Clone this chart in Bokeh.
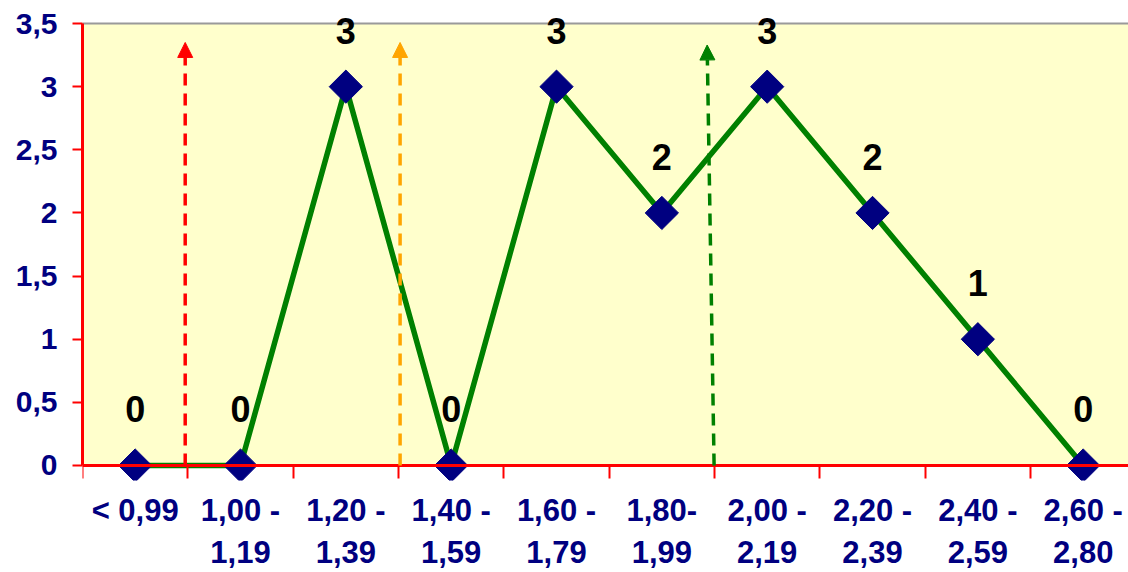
import math
from bokeh.plotting import figure
from bokeh.models import (FixedTicker, ColumnDataSource, LabelSet, Arrow, NormalHead,
                          BoxAnnotation, Span, LinearAxis)
from bokeh.core.properties import value
from bokeh.embed import file_html
from bokeh.resources import INLINE

categories = ["< 0,99", "1,00 -\n1,19", "1,20 -\n1,39", "1,40 -\n1,59", "1,60 -\n1,79",
              "1,80-\n1,99", "2,00 -\n2,19", "2,20 -\n2,39", "2,40 -\n2,59", "2,60 -\n2,80"]
counts = [0, 0, 3, 0, 3, 2, 3, 2, 1, 0]
y_ticks = [0, 0.5, 1, 1.5, 2, 2.5, 3, 3.5]
y_tick_labels = ["0", "0,5", "1", "1,5", "2", "2,5", "3", "3,5"]

# dashed arrows (category-position units)
arrow_x_start = [0.475, 2.515, 5.496]
arrow_x_end = [0.475, 2.515, 5.43]
arrow_y_end = [3.35, 3.35, 3.33]
arrow_colors = ["#FF0000", "#FFA500", "#008000"]

xs = list(range(len(categories)))
label_txt = [str(c) for c in counts]

FONT = "Liberation Sans"
NAVY = "#000080"
Y_MAX = 3.5

p = figure(width=1128, height=572, output_backend="svg", toolbar_location=None,
           x_range=(-0.5, 9.43), y_range=(-0.1188, 3.619),
           min_border_left=82, min_border_top=8, min_border_bottom=92, min_border_right=0)
p.background_fill_color = "white"
p.border_fill_color = "white"
p.outline_line_color = None

# plot-area fill and top border
p.add_layout(BoxAnnotation(bottom=0, top=Y_MAX, fill_color="#FFFFCC", fill_alpha=1,
                           line_color=None, level="underlay"))
p.add_layout(Span(location=Y_MAX, dimension="width", line_color="#9A9A9A", line_width=2,
                  level="underlay"))

# x axis line + boundary ticks, pinned at y = 0
ax = p.xaxis[0]
ax.fixed_location = 0
ax.ticker = FixedTicker(ticks=xs, minor_ticks=[i - 0.5 for i in range(len(categories) + 1)])
ax.major_label_overrides = {i: "" for i in xs}
ax.major_label_text_font_size = "0px"
ax.major_label_standoff = 0
ax.major_tick_out = 0
ax.major_tick_in = 0
ax.minor_tick_out = 13
ax.minor_tick_in = 0
ax.minor_tick_line_color = "#FF0000"
ax.minor_tick_line_width = 2
ax.axis_line_color = "#FF0000"
ax.axis_line_width = 3

# x category labels
lab_ax = LinearAxis(ticker=FixedTicker(ticks=xs, minor_ticks=[]),
                    major_label_overrides={i: c for i, c in enumerate(categories)},
                    axis_line_color=None, major_tick_line_color=None, minor_tick_line_color=None,
                    major_tick_out=0, major_tick_in=0, minor_tick_out=0, minor_tick_in=0,
                    major_label_standoff=12,
                    major_label_text_font=FONT, major_label_text_font_style="bold",
                    major_label_text_font_size="31px", major_label_text_color=NAVY)
p.add_layout(lab_ax, "below")

p.yaxis.ticker = FixedTicker(ticks=y_ticks, minor_ticks=[])
p.yaxis.bounds = (0, Y_MAX)
p.yaxis.major_label_overrides = {t: l for t, l in zip(y_ticks, y_tick_labels)}
p.yaxis.major_tick_out = 10
p.yaxis.major_tick_in = 0
p.yaxis.major_tick_line_color = "#FF0000"
p.yaxis.major_tick_line_width = 2
p.yaxis.axis_line_color = "#FF0000"
p.yaxis.axis_line_width = 3
p.yaxis.major_label_standoff = 15
p.yaxis.major_label_text_font = FONT
p.yaxis.major_label_text_font_style = "bold"
p.yaxis.major_label_text_font_size = "30px"
p.yaxis.major_label_text_color = NAVY

p.xgrid.grid_line_color = None
p.ygrid.ticker = FixedTicker(ticks=y_ticks[1:])
p.ygrid.grid_line_color = "black"
p.ygrid.grid_line_width = 1

# arrows
for xs0, xe, ye, col in zip(arrow_x_start, arrow_x_end, arrow_y_end, arrow_colors):
    p.add_layout(Arrow(x_start=xs0, y_start=0, x_end=xe, y_end=ye,
                       line_color=col, line_width=3.5, line_dash="12 8",
                       end=NormalHead(size=15, fill_color=col, line_color=col, line_width=1)))

src = ColumnDataSource(dict(x=xs, y=counts, t=label_txt))
p.line("x", "y", source=src, line_color="#008000", line_width=5.5)
p.scatter("x", "y", source=src, marker="square", angle=math.pi / 4, size=23.5,
          fill_color=NAVY, line_color=NAVY)

labels = LabelSet(x="x", y="y", text="t", source=src, y_offset=56,
                  text_align="center", text_baseline="middle",
                  text_font=value(FONT), text_font_style="bold", text_font_size="36px",
                  text_color="black")
p.add_layout(labels)

open("out.html", "w").write(file_html(p, INLINE))
